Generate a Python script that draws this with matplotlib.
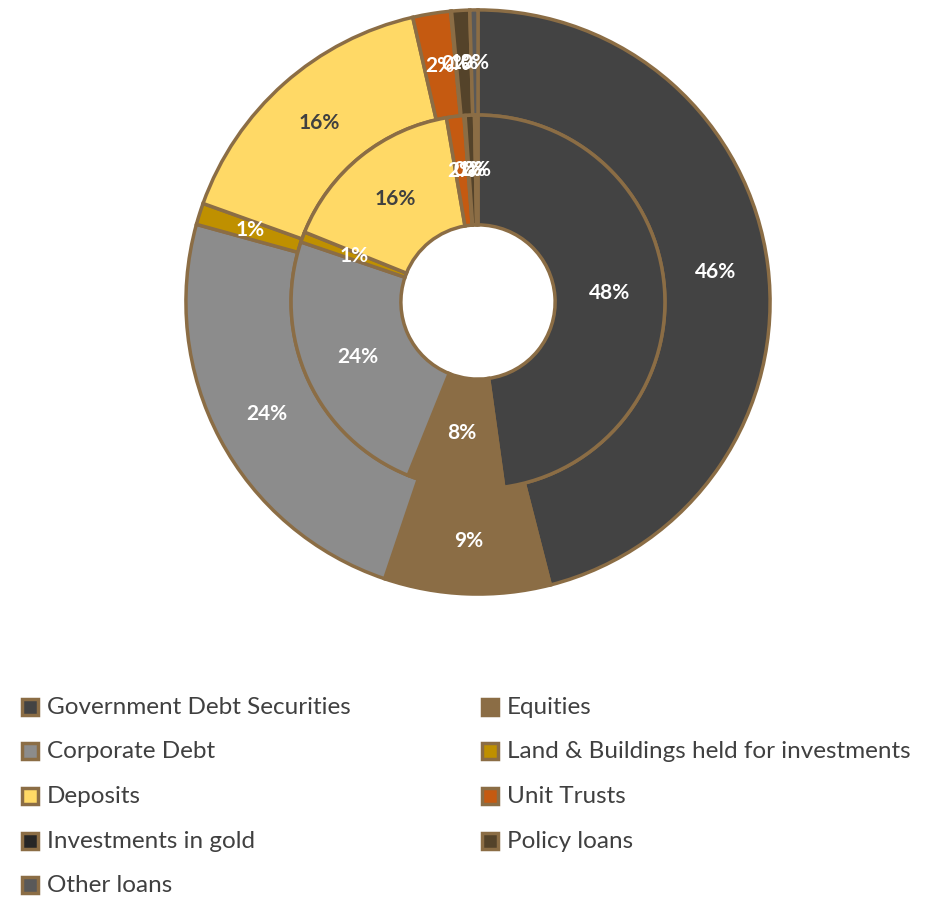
import matplotlib
matplotlib.use("Agg")
import matplotlib.pyplot as plt
from matplotlib.patches import Rectangle

plt.rcParams['font.family'] = ['Lato', 'DejaVu Sans']

# Asset classes and their shares (%) for the two years shown
categories = ["Government Debt Securities", "Equities", "Corporate Debt",
              "Land & Buildings held for investments", "Deposits", "Unit Trusts",
              "Investments in gold", "Policy loans", "Other loans"]
outer_vals = [46.2, 9.2, 24.2, 1.2, 16.0, 2.1, 0.05, 1.0, 0.45]
inner_vals = [47.8, 8.3, 24.1, 0.9, 16.2, 1.5, 0.1, 0.8, 0.3]

colors = ["#434343", "#8b6d45", "#8c8c8c", "#bf9000", "#ffd966",
          "#c55a11", "#262626", "#54432a", "#595959"]
label_colors = ["white", "white", "white", "white", "#404040",
                "white", "white", "white", "white"]
edge = "#8b6d45"

fig = plt.figure(figsize=(9.27, 8.97), dpi=100)
ax = fig.add_axes([183 / 927, 1 - 597 / 897, 590 / 927, 590 / 897])

r_outer, w_outer = 1.0, 0.36
r_inner, w_inner = 0.64, 0.376

for vals, r, w in [(outer_vals, r_outer, w_outer), (inner_vals, r_inner, w_inner)]:
    total = sum(vals)
    wedges, texts = ax.pie(vals, radius=r, colors=colors, startangle=90,
                           counterclock=False,
                           labels=[f"{round(v / total * 100):.0f}%" for v in vals],
                           labeldistance=(r - w / 2) / r,
                           wedgeprops=dict(width=w, edgecolor=edge, linewidth=2.5))
    for t, c in zip(texts, label_colors):
        t.set_color(c)
        t.set_fontweight("bold")
        t.set_fontsize(15)
        t.set_ha("center")
        t.set_va("center")

ax.set_xlim(-1.01, 1.01)
ax.set_ylim(-1.01, 1.01)
ax.set_aspect("equal")
ax.axis("off")

# Legend in two columns, filled row by row
for i, (name, col) in enumerate(zip(categories, colors)):
    row, c = divmod(i, 2)
    x0 = 22 / 927 if c == 0 else 482 / 927
    y0 = 1 - (707 + row * 44.7) / 897
    fig.patches.append(Rectangle((x0, y0 - 7.5 / 897), 16 / 927, 16 / 897,
                                 transform=fig.transFigure, facecolor=col,
                                 edgecolor=edge, linewidth=2.5))
    fig.text(x0 + 25 / 927, y0, name, fontsize=17.5, color="#404040",
             va="center", ha="left")

fig.savefig("out.png", dpi=100)
